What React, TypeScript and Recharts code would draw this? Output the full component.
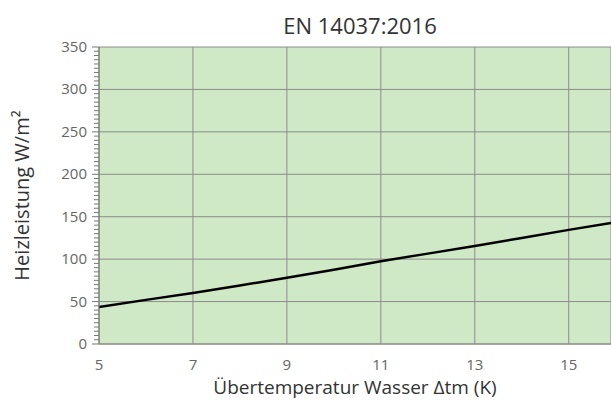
import { LineChart, Line, XAxis, YAxis, CartesianGrid } from 'recharts';

// Übertemperatur Wasser Δtm (K)
const deltaT = [5, 6, 7, 8, 9, 10, 11, 12, 13, 14, 15, 15.9];
// Heizleistung W/m²
const heatOutput = [43.6, 52, 60.2, 69, 78, 87.5, 97.5, 106.5, 115.5, 125, 134.5, 142.6];

const xTicks = [5, 7, 9, 11, 13, 15];
const yMajor = [0, 50, 100, 150, 200, 250, 300, 350];
const yMinor = Array.from({ length: 71 }, (_, i) => i * 5);

const data = deltaT.map((t, i) => ({ t, q: heatOutput[i] }));

const FONT = '"Open Sans", "Noto Sans", sans-serif';

function YTick(props: any) {
  const { x, y, payload } = props;
  const major = payload.value % 50 === 0;
  return (
    <g>
      <line x1={x - (major ? 7 : 5)} x2={x} y1={y} y2={y} stroke="#777" strokeWidth={1} />
      {major && (
        <text x={x - 12} y={y} dy={5} textAnchor="end" fill="#666" fontSize={15} fontFamily={FONT}>
          {payload.value}
        </text>
      )}
    </g>
  );
}

export default function App() {
  return (
    <div style={{ position: 'absolute', left: 0, top: 0, width: 611, height: 401, fontFamily: FONT }}>
      <div
        style={{
          position: 'absolute',
          top: 14,
          left: 160,
          width: 400,
          textAlign: 'center',
          fontSize: 22,
          lineHeight: '22px',
          color: '#333',
        }}
      >
        EN 14037:2016
      </div>
      <LineChart width={611} height={401} data={data} margin={{ top: 47, right: 0, bottom: 0, left: 0 }}>
        <CartesianGrid
          fill="#cfe8c5"
          stroke="#8c8c8c"
          strokeWidth={1}
          horizontalValues={yMajor}
        />
        <XAxis
          type="number"
          dataKey="t"
          domain={[5, 15.9]}
          ticks={xTicks}
          allowDataOverflow
          height={57}
          tickLine={false}
          tickMargin={9}
          axisLine={{ stroke: '#888' }}
          tick={{ fill: '#666', fontSize: 15, fontFamily: FONT }}
          label={{
            value: 'Übertemperatur Wasser Δtm (K)',
            position: 'insideBottom',
            offset: 7,
            fill: '#333',
            fontSize: 19,
            fontFamily: FONT,
          }}
        />
        <YAxis
          type="number"
          domain={[0, 350]}
          ticks={yMinor}
          interval={0}
          width={99}
          tickLine={false}
          tickSize={0}
          tickMargin={0}
          tick={<YTick />}
          axisLine={{ stroke: '#777' }}
          label={{
            value: 'Heizleistung W/m²',
            angle: -90,
            position: 'insideLeft',
            offset: 22,
            style: { textAnchor: 'middle' },
            fill: '#333',
            fontSize: 20,
            fontFamily: FONT,
          }}
        />
        <Line
          type="linear"
          dataKey="q"
          stroke="#000"
          strokeWidth={2.5}
          dot={false}
          isAnimationActive={false}
        />
      </LineChart>
    </div>
  );
}
